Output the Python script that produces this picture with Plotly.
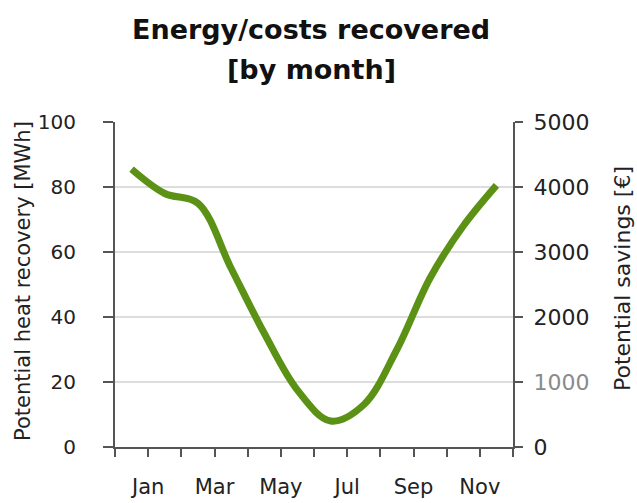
import plotly.graph_objects as go

months = ["Jan", "Feb", "Mar", "Apr", "May", "Jun", "Jul", "Aug", "Sep", "Oct", "Nov", "Dec"]
heat_mwh = [85.5, 78, 75, 55, 35, 17.5, 8, 13, 30, 52, 68, 80.5]
left_ticks = [0, 20, 40, 60, 80, 100]
grid_ticks = [20, 40, 60, 80]
right_ticks = [0, 1000, 2000, 3000, 4000, 5000]
shown_labels = ["Jan", "Mar", "May", "Jul", "Sep", "Nov"]

# positions: category centers at 0.5..11.5, boundaries at 0..12
xpos = [i + 0.5 for i in range(len(months))]
tickvals = list(range(len(months) + 1))
ticktext = [""] * len(tickvals)
for i, lab in enumerate(shown_labels):
    ticktext[2 * i + 1] = lab
right_text = [str(v) if v != 1000 else '<span style="color:#8a8a8a">1000</span>' for v in right_ticks]

FONT = "DejaVu Sans"
AX = "#555555"
TXT = "#222222"

fig = go.Figure()
fig.add_trace(go.Scatter(
    x=xpos, y=heat_mwh, mode="lines", yaxis="y3",
    line=dict(color="#5b9216", width=7, shape="spline", smoothing=1.0),
    showlegend=False, hoverinfo="skip",
))
fig.add_trace(go.Scatter(x=[xpos[0]], y=[0], yaxis="y", mode="markers",
                         marker=dict(opacity=0), showlegend=False, hoverinfo="skip"))
fig.add_trace(go.Scatter(x=[xpos[0]], y=[0], yaxis="y2", mode="markers",
                         marker=dict(opacity=0), showlegend=False, hoverinfo="skip"))

W, H = 637, 503
fig.update_layout(
    width=W, height=H,
    margin=dict(l=115, r=124, t=122, b=56),
    paper_bgcolor="white", plot_bgcolor="white",
    font=dict(family=FONT, color=TXT, size=20),
    xaxis=dict(range=[0, 12], tickvals=tickvals, ticktext=ticktext, automargin=False,
               showgrid=False, zeroline=False, showline=True, linecolor=AX, linewidth=2,
               ticks="outside", ticklen=8, tickwidth=2, tickcolor=AX,
               ticklabelstandoff=12, tickfont=dict(size=21)),
    yaxis3=dict(range=[0, 100], tickvals=grid_ticks, showticklabels=False, ticks="",
                automargin=False,
                showgrid=True, gridcolor="#dddddd", gridwidth=2, zeroline=False,
                showline=False),
    yaxis=dict(range=[0, 100], tickvals=left_ticks, overlaying="y3", automargin=False,
               showgrid=False, zeroline=False,
               showline=True, linecolor=AX, linewidth=2,
               ticks="outside", ticklen=10, tickwidth=2, tickcolor=AX,
               ticklabelstandoff=23, tickfont=dict(size=20)),
    yaxis2=dict(range=[0, 5000], tickvals=right_ticks, ticktext=right_text,
                overlaying="y3", side="right", automargin=False,
                showgrid=False, zeroline=False, showline=True, linecolor=AX, linewidth=2,
                ticks="outside", ticklen=8, tickwidth=2, tickcolor=AX,
                ticklabelstandoff=6, tickfont=dict(size=22)),
    annotations=[
        dict(text="<b>Energy/costs recovered</b>", xref="paper", yref="paper",
             x=0.5, y=1, xanchor="center", yanchor="middle", yshift=122 - 29, xshift=-3,
             showarrow=False, font=dict(size=27, color="#111111")),
        dict(text="<b>[by month]</b>", xref="paper", yref="paper",
             x=0.5, y=1, xanchor="center", yanchor="middle", yshift=122 - 69, xshift=-3,
             showarrow=False, font=dict(size=27, color="#111111")),
        dict(text="Potential heat recovery [MWh]", xref="paper", yref="paper",
             x=0, y=(447 - 281) / 325, xanchor="center", yanchor="middle", xshift=23 - 115,
             textangle=-90, showarrow=False, font=dict(size=21)),
        dict(text="Potential savings [€]", xref="paper", yref="paper",
             x=1, y=(447 - 279) / 325, xanchor="center", yanchor="middle", xshift=622 - 513,
             textangle=-90, showarrow=False, font=dict(size=22)),
    ],
)

fig.write_html("out.html", config={"displayModeBar": False},
               post_script="document.body.style.margin='0';")
